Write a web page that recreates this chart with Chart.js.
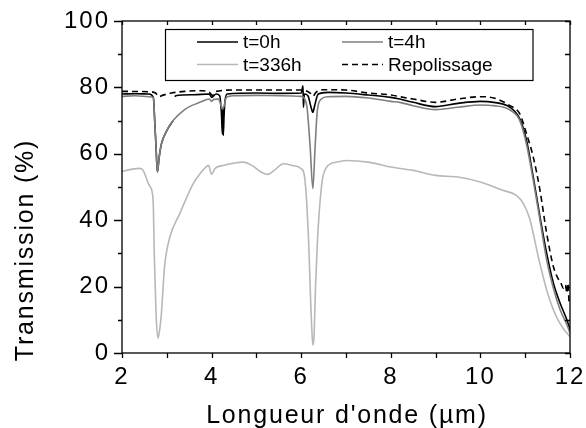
<!DOCTYPE html>
<html>
<head>
<meta charset="utf-8">
<script src="https://cdn.jsdelivr.net/npm/chart.js@4.4.1/dist/chart.umd.min.js"></script>
<style>
  html, body { margin: 0; padding: 0; background: #fff; }
  #wrap { width: 586px; height: 428px; }
</style>
</head>
<body>
<div id="wrap"><canvas id="chartTransmission"></canvas></div>
<script>
// longueur d'onde (µm) / transmission (%)
// (null = trou dans la mesure t=0h)
const wl0h = [2.0,2.3,2.6,2.7,2.73,2.76,2.79,2.83,2.88,3.0,3.14,3.16,3.18,3.2,3.6,3.95,4.0,4.1,4.18,4.22,4.24,4.25,4.26,4.28,4.3,4.35,5.0,5.5,6.0,6.04,6.05,6.07,6.15,6.22,6.26,6.3,6.38,6.6,7.0,7.5,8.0,8.2,8.5,9.0,9.5,10.0,10.3,10.66,10.88,11.03,11.18,11.33,11.48,11.63,11.78,11.93,12.0];
const tr0h = [78,78.1,78,77,70,62,54.5,59,63,67,70,null,77.2,77.5,77.8,78,77,78,77.5,72,66,74,65.5,72,76,78,78.3,78.2,78.3,80.5,74,78,77.5,74,72.5,74.5,78,78.5,78.3,77.7,77,76.5,75.5,74.2,75.2,75.8,75.5,74,70.5,64,53,41,30,21,15,10,7];

const wl4h = [2.0,2.3,2.6,2.7,2.73,2.76,2.79,2.83,2.88,3.0,3.14,3.37,3.55,3.74,3.95,4.0,4.05,4.15,4.2,4.24,4.28,4.33,4.5,5.0,5.5,6.0,6.08,6.13,6.2,6.26,6.31,6.36,6.45,6.6,7.0,7.5,8.0,8.2,8.5,9.0,9.5,10.0,10.3,10.66,10.88,11.03,11.18,11.33,11.48,11.63,11.78,11.93,12.0];
const tr4h = [77.3,77.5,77.2,77,70,62,54.5,59,63,67,70,73,74.5,75.5,76.5,75.8,76.4,76.5,75,73.5,74.5,77,77.5,77.6,77.5,77.3,76.5,74,62,49.5,62,73,76.5,77.2,77.3,76.8,75.8,75.5,74.5,73.3,74,74.7,74.5,73.2,70,62.8,52,40,28,19.5,13,8.5,6];

const wl336h = [2.0,2.2,2.4,2.48,2.59,2.63,2.67,2.7,2.72,2.76,2.8,2.83,2.88,2.95,3.07,3.29,3.59,3.74,3.89,3.93,4.0,4.07,4.26,4.5,4.7,4.9,5.1,5.25,5.4,5.6,5.8,6.0,6.07,6.12,6.17,6.21,6.25,6.27,6.29,6.32,6.36,6.4,6.47,6.57,6.8,7.0,7.5,8.0,8.5,9.0,9.5,10.0,10.5,10.81,10.96,11.1,11.18,11.3,11.4,11.5,11.63,11.75,11.85,11.93,12.0];
const tr336h = [54.7,55.3,55.6,54.8,51,50,48.7,44,30,12,4.5,6,12,26,35,42,51,54,56.2,56.5,53.8,55.5,56.5,57.2,57.5,56.5,54.5,53.8,55,57,56.5,55.5,53.5,46,32,16,4,2.4,6,20,33,42,52,56,57.5,58,57.5,56,55,53.5,53,51.5,49,47.4,45,40.5,36,28.5,23,18,13,9.5,7.4,6,4.9];

const wlRep = [2.0,2.6,2.75,2.82,2.9,3.1,3.4,3.8,3.95,4.02,4.1,4.5,5.0,5.5,6.0,6.2,6.26,6.33,6.5,7.0,7.5,8.0,8.2,8.5,9.0,9.5,10.0,10.3,10.66,10.88,11.03,11.18,11.33,11.48,11.63,11.75,11.8,11.85,11.9,11.93,11.96,11.98,12.0];
const trRep = [78.8,78.7,78.3,77.2,77.6,78.3,78.8,79,78.5,77.6,78.8,79.2,79.2,79.2,79.2,78.3,77.3,78.5,79.3,79.2,78.3,77.7,77.2,76.5,75.5,76.5,77.2,76.8,74.5,72,66,59,49,36,26,22,21,19.5,20.5,18,21,15,16];

const xTicks = [2,3,4,5,6,7,8,9,10,11,12];
const yTicks = [0,10,20,30,40,50,60,70,80,90,100];

function toPoints(xs, ys) {
  const pts = [];
  for (var i = 0; i < xs.length; i++) {
    pts.push({x: xs[i], y: ys[i]});
  }
  return pts;
}

const FONT = "'Liberation Sans', Arial, sans-serif";

// cadre, graduations (vers l'intérieur en haut / à droite), titres, légende
const cadrePlugin = {
  id: 'cadre',
  beforeDraw(chart) {
    chart.ctx.letterSpacing = '2px';
  },
  afterDraw(chart) {
    const ctx = chart.ctx;
    const a = chart.chartArea;
    const sx = chart.scales.x;
    const sy = chart.scales.y;
    ctx.save();
    ctx.letterSpacing = '0px';
    ctx.strokeStyle = '#000';
    ctx.lineWidth = 1.3;
    ctx.strokeRect(a.left, a.top, a.right - a.left, a.bottom - a.top);

    ctx.beginPath();
    xTicks.forEach(function (v) {
      const px = Math.round(sx.getPixelForValue(v)) + 0.5;
      ctx.moveTo(px, a.bottom); ctx.lineTo(px, a.bottom + 5);
      ctx.moveTo(px, a.top); ctx.lineTo(px, a.top + 4);
    });
    yTicks.forEach(function (v) {
      const py = Math.round(sy.getPixelForValue(v)) + 0.5;
      const len = (v % 20 === 0) ? 8 : 4;
      ctx.moveTo(a.left - len, py); ctx.lineTo(a.left, py);
      ctx.moveTo(a.right - 5, py); ctx.lineTo(a.right, py);
    });
    ctx.stroke();

    // titres des axes
    ctx.fillStyle = '#000';
    ctx.font = '25px ' + FONT;
    ctx.letterSpacing = '1.8px';
    ctx.textAlign = 'center';
    ctx.textBaseline = 'alphabetic';
    ctx.fillText("Longueur d'onde (µm)", (a.left + a.right) / 2 + 1, 423);
    ctx.save();
    ctx.translate(33, 250);
    ctx.rotate(-Math.PI / 2);
    ctx.letterSpacing = '1.8px';
    ctx.fillText('Transmission (%)', 0, 0);
    ctx.restore();

    // légende
    ctx.letterSpacing = '0px';
    ctx.fillStyle = '#fff';
    ctx.fillRect(165, 29.5, 368, 51);
    ctx.lineWidth = 1.2;
    ctx.strokeStyle = '#000';
    ctx.strokeRect(165.5, 29.5, 367.5, 51);
    const items = [
      {ds: 0, x: 197, y: 42},
      {ds: 1, x: 342, y: 42},
      {ds: 2, x: 197, y: 64.5},
      {ds: 3, x: 342, y: 64.5}
    ];
    ctx.font = '19px ' + FONT;
    ctx.textAlign = 'left';
    ctx.textBaseline = 'middle';
    items.forEach(function (it) {
      const ds = chart.data.datasets[it.ds];
      ctx.save();
      ctx.strokeStyle = ds.borderColor;
      ctx.lineWidth = ds.borderWidth;
      ctx.setLineDash(ds.borderDash || []);
      ctx.beginPath();
      ctx.moveTo(it.x, it.y);
      ctx.lineTo(it.x + 41, it.y);
      ctx.stroke();
      ctx.restore();
      ctx.fillStyle = '#000';
      ctx.fillText(ds.label, it.x + 46, it.y + 1);
    });
    ctx.restore();
  }
};

chartIt();

function chartIt() {
  const ctx = document.getElementById('chartTransmission').getContext('2d');

  const borderWidth = 1.6;
  const radius = 0;
  const fill = false;
  const mode = 'monotone';

  const myChart = new Chart(ctx, {
    type: 'line',
    data: {
      datasets: [
        {
          label: 't=0h',
          data: toPoints(wl0h, tr0h),
          fill: fill,
          borderWidth: borderWidth,
          radius: radius,
          borderColor: '#000000',
          cubicInterpolationMode: mode,
          spanGaps: false,
          order: 3
        },
        {
          label: 't=4h',
          data: toPoints(wl4h, tr4h),
          fill: fill,
          borderWidth: borderWidth,
          radius: radius,
          borderColor: '#7f7f7f',
          cubicInterpolationMode: mode,
          order: 2
        },
        {
          label: 't=336h',
          data: toPoints(wl336h, tr336h),
          fill: fill,
          borderWidth: borderWidth,
          radius: radius,
          borderColor: '#b8b8b8',
          cubicInterpolationMode: mode,
          order: 4
        },
        {
          label: 'Repolissage',
          data: toPoints(wlRep, trRep),
          fill: fill,
          borderWidth: borderWidth,
          radius: radius,
          borderColor: '#000000',
          borderDash: [6, 4],
          cubicInterpolationMode: mode,
          order: 1
        }
      ]
    },
    options: {
      responsive: true,
      maintainAspectRatio: false,
      animation: false,
      layout: {
        padding: {left: 0, top: 21, right: 16, bottom: 0}
      },
      plugins: {
        legend: {display: false},
        tooltip: {enabled: false}
      },
      scales: {
        x: {
          type: 'linear',
          min: 2,
          max: 12,
          grid: {display: false, drawTicks: false},
          border: {display: false},
          afterFit: function (scale) {
            scale.height = 75;
            scale.paddingLeft = 0;
            scale.paddingRight = 0;
          },
          ticks: {
            stepSize: 1,
            autoSkip: false,
            maxRotation: 0,
            padding: 10,
            color: '#000',
            font: {family: FONT, size: 24},
            callback: function (v) { return v % 2 === 0 ? v : ''; }
          }
        },
        y: {
          min: 0,
          max: 100,
          grid: {display: false, drawTicks: false},
          border: {display: false},
          afterFit: function (scale) {
            scale.width = 122;
            scale.paddingTop = 0;
            scale.paddingBottom = 0;
          },
          ticks: {
            stepSize: 10,
            autoSkip: false,
            padding: 12,
            color: '#000',
            font: {family: FONT, size: 24},
            callback: function (v) { return v % 20 === 0 ? v : ''; }
          }
        }
      }
    },
    plugins: [cadrePlugin]
  });
}
</script>
</body>
</html>
